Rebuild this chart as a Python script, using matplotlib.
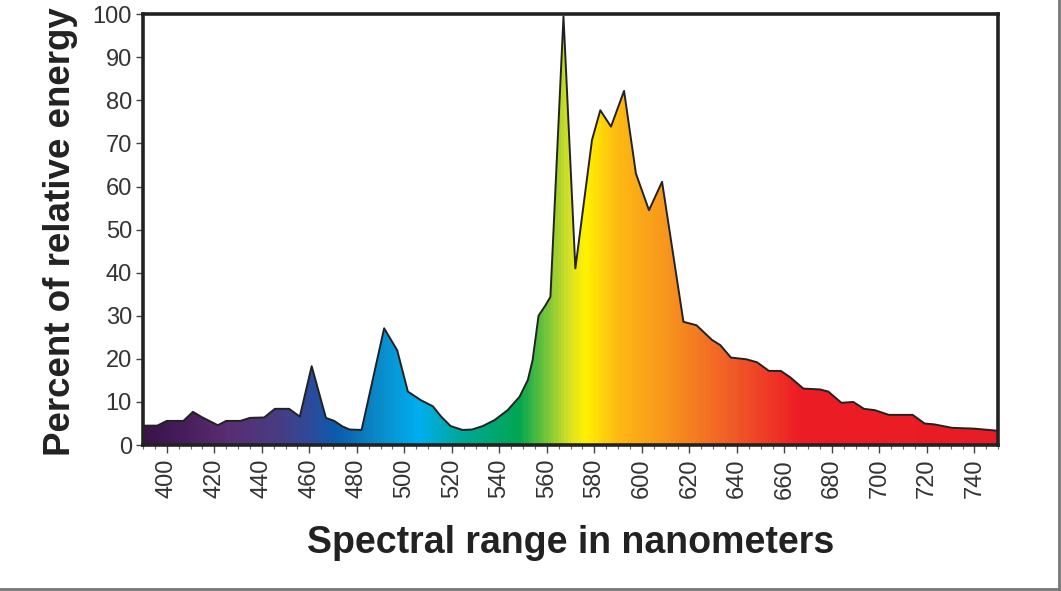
import numpy as np
import matplotlib
matplotlib.use('Agg')
import matplotlib.pyplot as plt
from matplotlib.colors import LinearSegmentedColormap
from matplotlib.lines import Line2D
from matplotlib.ticker import MultipleLocator

plt.rcParams['font.family'] = ['Liberation Sans', 'DejaVu Sans']

# spectrum (nm, percent of relative energy)
wavelength = [390, 396, 400, 407, 411, 415, 421.5, 425, 431, 435, 441, 445.5, 451.5, 456,
              461, 467, 470.5, 474, 477, 482, 491.5, 497, 501.5, 507, 512, 515.5, 519.5,
              524.5, 528.5, 533, 538, 543.5, 548.5, 552, 554, 556.5, 559.5, 561.5, 567, 572,
              579, 582.5, 587, 592.5, 597.5, 603, 608.5, 617.5, 623, 629.5, 633, 637.5,
              644, 648.5, 653.5, 658.5, 662.5, 668, 675, 678.5, 684, 689, 693.5, 698,
              704, 714, 719, 723, 730.5, 740, 750]
energy = [4.5, 4.5, 5.6, 5.6, 7.7, 6.4, 4.6, 5.6, 5.6, 6.3, 6.4, 8.4, 8.4, 6.6,
          18.3, 6.3, 5.6, 4.3, 3.6, 3.5, 27.1, 22.0, 12.4, 10.4, 9.0, 6.6, 4.4,
          3.5, 3.6, 4.4, 5.8, 8.1, 11.2, 15.1, 19.7, 30.0, 32.5, 34.4, 99.5, 41.0,
          70.8, 77.7, 73.9, 82.2, 63.0, 54.5, 61.1, 28.6, 27.8, 24.4, 23.2, 20.3,
          19.9, 19.2, 17.2, 17.2, 15.7, 13.1, 12.9, 12.4, 9.8, 10.0, 8.4, 8.1,
          7.0, 7.0, 5.0, 4.8, 4.0, 3.8, 3.3]

# colour of the fill along the wavelength axis
stop_nm = [390, 401, 425, 446, 460, 471, 488, 506, 523, 548, 570, 576, 590, 611, 639, 667, 750]
stop_col = ['#3a1448', '#421a55', '#5a2d72', '#483c82', '#2d4a9a', '#0a5cad', '#0a8ac8',
            '#00aeef', '#00a89a', '#00a651', '#dfe224', '#fff200', '#fdb913', '#f7941d',
            '#f05a28', '#ed1c24', '#e81c25']

x_min, x_max = 390, 750
pos = [(n - x_min) / (x_max - x_min) for n in stop_nm]
cmap = LinearSegmentedColormap.from_list('spectrum', list(zip(pos, stop_col)))

fig = plt.figure(figsize=(10.61, 5.91), dpi=100)
ax = fig.add_axes([0.1348, 0.247, 0.806, 0.729])

poly = ax.fill_between(wavelength, energy, 0, facecolor='none', edgecolor='none')
grad = ax.imshow(np.linspace(0, 1, 600).reshape(1, -1), cmap=cmap, aspect='auto',
                 extent=[x_min, x_max, 0, 100], origin='lower', zorder=1)
grad.set_clip_path(poly.get_paths()[0], transform=ax.transData)
ax.plot(wavelength, energy, color='#222222', lw=1.4, zorder=2)

ax.set_xlim(x_min, x_max)
ax.set_ylim(0, 100)
ax.xaxis.set_major_locator(MultipleLocator(20))
ax.xaxis.set_minor_locator(MultipleLocator(5))
ax.yaxis.set_major_locator(MultipleLocator(10))
ax.set_xticks(range(400, 741, 20))

for s in ax.spines.values():
    s.set_linewidth(2.6)
    s.set_color('#222222')
    s.set_zorder(3)

ax.tick_params(axis='y', which='major', direction='out', length=5, width=1, color='#444444',
               labelsize=17, labelcolor='#333333', pad=3)
ax.tick_params(axis='x', which='major', direction='out', length=6, width=1, color='#444444',
               labelsize=17, labelcolor='#333333', labelrotation=90, pad=4)
ax.tick_params(axis='x', which='minor', direction='out', length=3, width=0.8, color='#666666')

ax.set_xlabel('Spectral range in nanometers', fontsize=27, fontweight='bold',
              color='#222222', labelpad=19)
ax.set_ylabel('Percent of relative energy', fontsize=26.5, fontweight='bold',
              color='#222222')
ax.yaxis.set_label_coords(-0.076, 0.495)

# thin grey frame on the right and bottom edges of the picture
fig.add_artist(Line2D([0.9985, 0.9985], [0, 1], transform=fig.transFigure, color='#777777', lw=2))
fig.add_artist(Line2D([0, 1], [0.003, 0.003], transform=fig.transFigure, color='#777777', lw=2))

fig.savefig('out.png', dpi=100)
